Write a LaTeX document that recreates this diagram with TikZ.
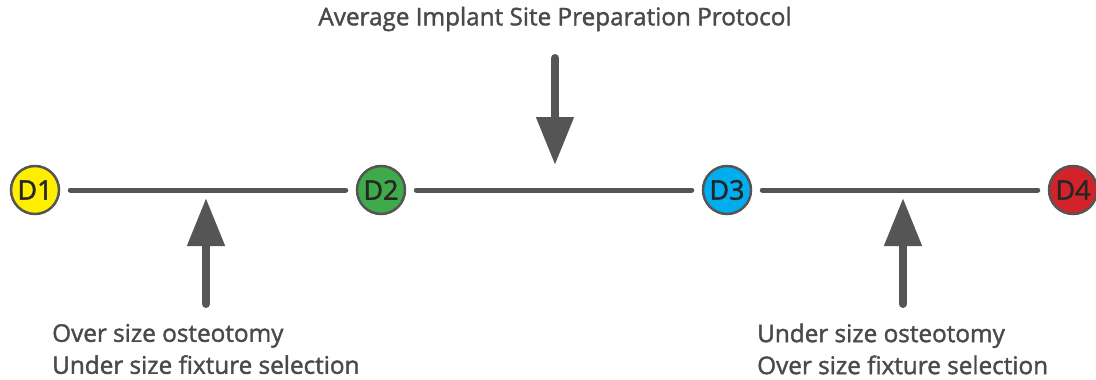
\documentclass[tikz,border=0pt]{standalone}
\usepackage{fontspec}
\setmainfont{Open Sans}[FakeBold=1.6]
\usetikzlibrary{arrows.meta}
\definecolor{ink}{HTML}{555555}
\definecolor{txt}{HTML}{4A4A4A}
\definecolor{cy}{HTML}{FFEE00}
\definecolor{cg}{HTML}{3FAA4A}
\definecolor{cb}{HTML}{00AEEF}
\definecolor{cr}{HTML}{D2232A}
\tikzset{
  dnode/.style={circle, draw=ink, line width=2.5pt, minimum size=48pt, inner sep=0pt,
    font=\fontsize{27}{30}\selectfont, text=black!85},
  link/.style={draw=ink, line width=5pt, line cap=round, shorten <=10pt, shorten >=10pt},
  bigarrow/.style={draw=ink, line width=8pt, line cap=round,
    -{Triangle[width=36pt,length=48pt]}, ink},
  lbl/.style={text=txt, font=\fontsize{24.3}{32}\selectfont, align=left, inner sep=0pt}
}
\begin{document}
\begin{tikzpicture}[x=1pt,y=-1pt]
\useasboundingbox (0,0) rectangle (1096,380);
\node[dnode, fill=cy] (d1) at (35,190) {D1};
\node[dnode, fill=cg] (d2) at (381,190) {D2};
\node[dnode, fill=cb] (d3) at (727,190) {D3};
\node[dnode, fill=cr] (d4) at (1073,190) {D4};
\draw[link] (d1) -- (d2);
\draw[link] (d2) -- (d3);
\draw[link] (d3) -- (d4);
\node[lbl, anchor=center] (title) at (555,19) {Average Implant Site Preparation Protocol};
\coordinate (ta) at (555,58);
\coordinate (tb) at (555,165);
\draw[bigarrow] (ta) -- (tb);
\coordinate (la) at (206,304);
\coordinate (lb) at (206,198);
\draw[bigarrow] (la) -- (lb);
\coordinate (ra) at (903,304);
\coordinate (rb) at (903,198);
\draw[bigarrow] (ra) -- (rb);
\node[lbl, anchor=west] (left) at (52,349) {Over size osteotomy\\Under size fixture selection};
\node[lbl, anchor=west] (right) at (757,349) {Under size osteotomy\\Over size fixture selection};
\end{tikzpicture}
\end{document}
